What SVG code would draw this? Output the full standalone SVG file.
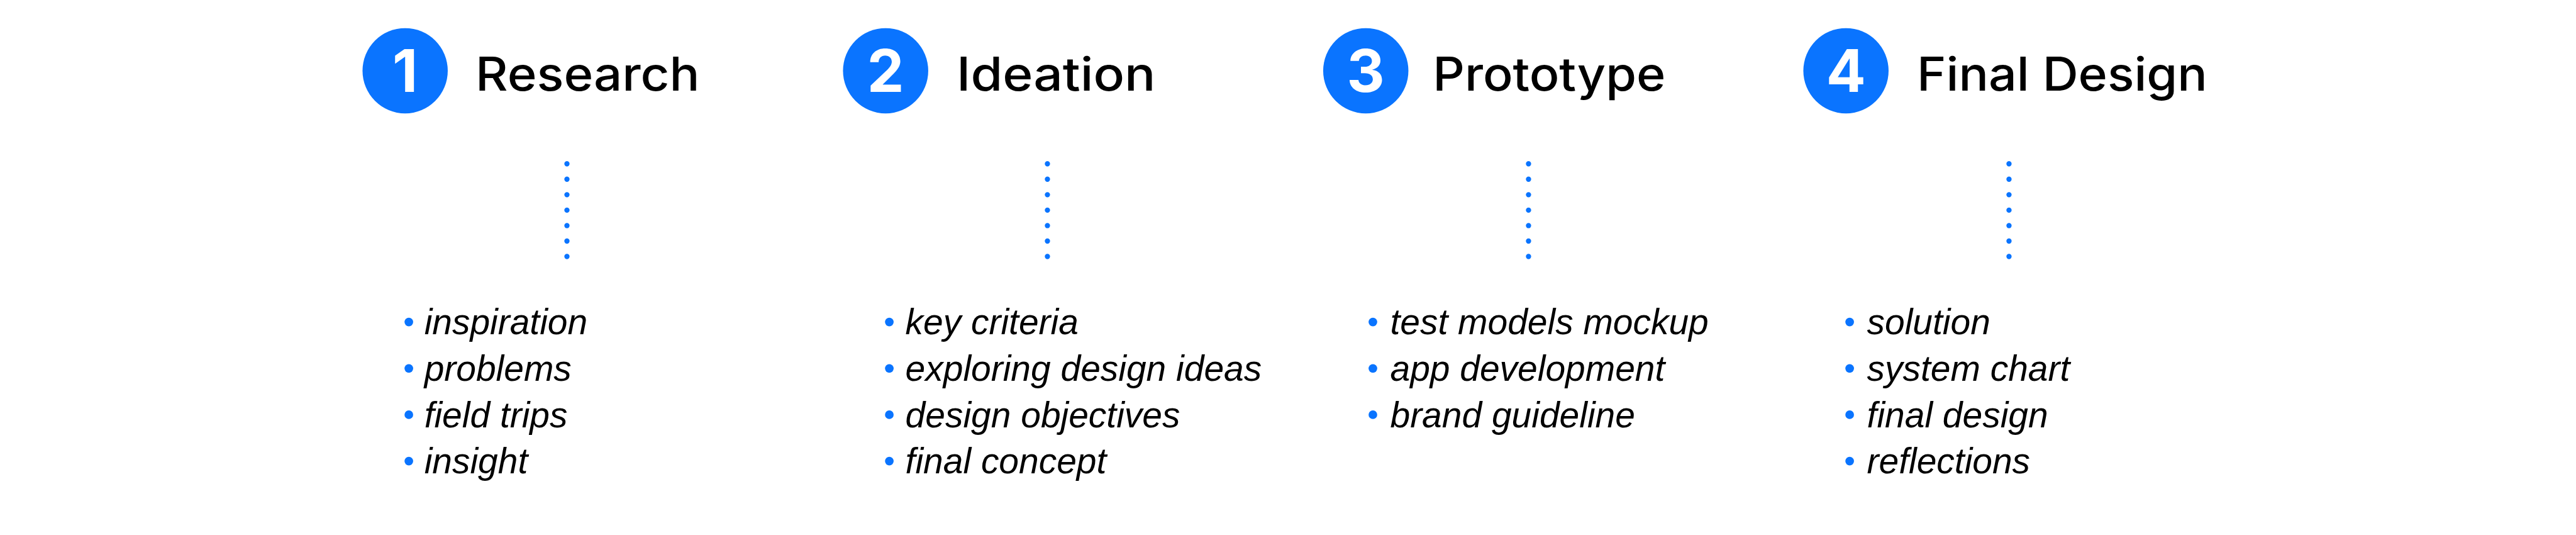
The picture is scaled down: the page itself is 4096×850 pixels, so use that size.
<svg xmlns="http://www.w3.org/2000/svg" width="4096" height="850" viewBox="0 0 4096 850">
<style>
.badge{fill:#0A74FF}
.num{fill:#FFFFFF;font-family:Inter,"Liberation Sans",sans-serif;font-weight:700;font-size:95px;text-anchor:middle}
.title{fill:#000000;font-family:Inter,"Liberation Sans",sans-serif;font-weight:500;font-size:75px}
.item{fill:#000000;font-family:"Liberation Sans",Arial,sans-serif;font-style:italic;font-size:58px}
.dot{fill:#0A74FF}
.dots{stroke:#0A74FF;stroke-width:8.5;stroke-linecap:round;stroke-dasharray:0 25;fill:none}
</style>
<rect width="4096" height="850" fill="#FFFFFF"/>
<g transform="scale(0.982)">
<g id="connectors">
<line class="dots" x1="918" y1="265" x2="918" y2="416"/>
<line class="dots" x1="1696" y1="265" x2="1696" y2="416"/>
<line class="dots" x1="2475" y1="265" x2="2475" y2="416"/>
<line class="dots" x1="3253" y1="265" x2="3253" y2="416"/>
</g>
<g id="step1">
<circle class="badge" cx="656" cy="114.5" r="69"/>
<text class="num" x="656" y="149">1</text>
<text class="title" x="770" y="147" textLength="363" lengthAdjust="spacingAndGlyphs">Research</text>
<circle class="dot" cx="662" cy="521" r="7"/>
<circle class="dot" cx="662" cy="596" r="7"/>
<circle class="dot" cx="662" cy="671" r="7"/>
<circle class="dot" cx="662" cy="746" r="7"/>
<text class="item" x="687" y="541">inspiration</text>
<text class="item" x="687" y="616">problems</text>
<text class="item" x="687" y="691">field trips</text>
<text class="item" x="687" y="766">insight</text>
</g>
<g id="step2">
<circle class="badge" cx="1434" cy="114.5" r="69"/>
<text class="num" x="1434" y="149">2</text>
<text class="title" x="1549" y="147" textLength="322" lengthAdjust="spacingAndGlyphs">Ideation</text>
<circle class="dot" cx="1440" cy="521" r="7"/>
<circle class="dot" cx="1440" cy="596" r="7"/>
<circle class="dot" cx="1440" cy="671" r="7"/>
<circle class="dot" cx="1440" cy="746" r="7"/>
<text class="item" x="1466" y="541">key criteria</text>
<text class="item" x="1466" y="616">exploring design ideas</text>
<text class="item" x="1466" y="691">design objectives</text>
<text class="item" x="1466" y="766">final concept</text>
</g>
<g id="step3">
<circle class="badge" cx="2211.5" cy="114.5" r="69"/>
<text class="num" x="2211.5" y="149">3</text>
<text class="title" x="2320" y="147" textLength="377" lengthAdjust="spacingAndGlyphs">Prototype</text>
<circle class="dot" cx="2223" cy="521" r="7"/>
<circle class="dot" cx="2223" cy="596" r="7"/>
<circle class="dot" cx="2223" cy="671" r="7"/>
<text class="item" x="2251" y="541">test models mockup</text>
<text class="item" x="2251" y="616">app development</text>
<text class="item" x="2251" y="691">brand guideline</text>
</g>
<g id="step4">
<circle class="badge" cx="2989" cy="114.5" r="69"/>
<text class="num" x="2989" y="149">4</text>
<text class="title" x="3104" y="147" textLength="470" lengthAdjust="spacingAndGlyphs">Final Design</text>
<circle class="dot" cx="2995" cy="521" r="7"/>
<circle class="dot" cx="2995" cy="596" r="7"/>
<circle class="dot" cx="2995" cy="671" r="7"/>
<circle class="dot" cx="2995" cy="746" r="7"/>
<text class="item" x="3023" y="541">solution</text>
<text class="item" x="3023" y="616">system chart</text>
<text class="item" x="3023" y="691">final design</text>
<text class="item" x="3023" y="766">reflections</text>
</g>
</g>
</svg>
